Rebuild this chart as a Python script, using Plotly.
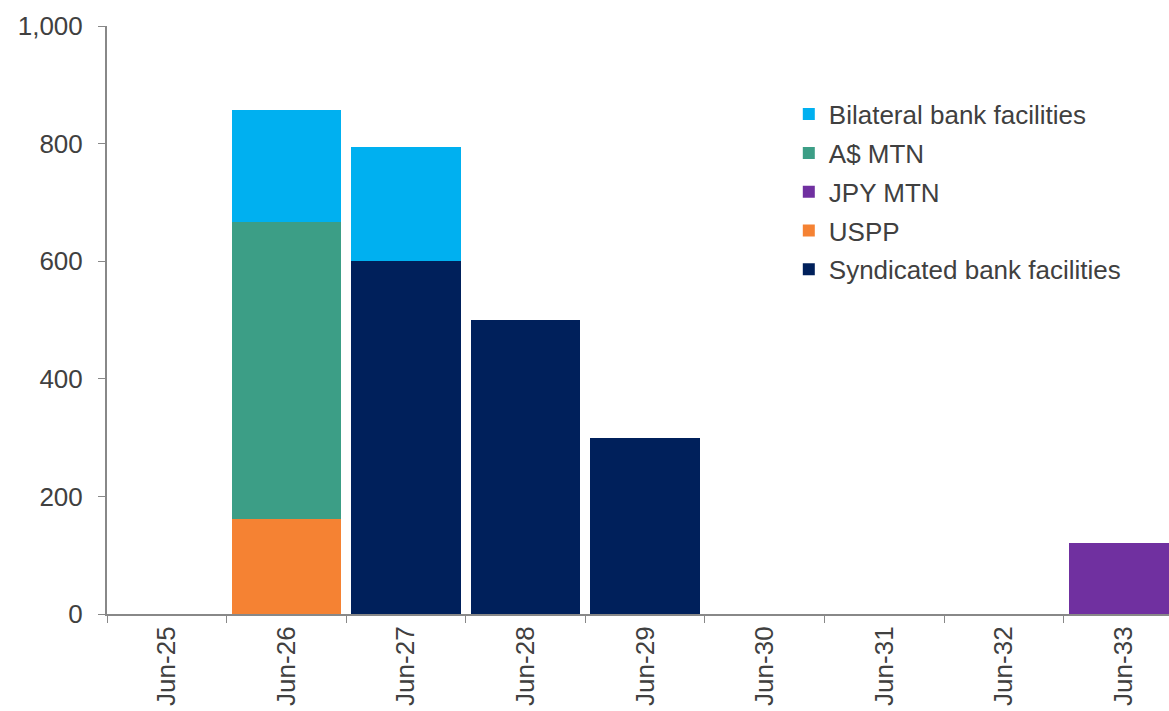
import plotly.graph_objects as go

categories = ["Jun-25", "Jun-26", "Jun-27", "Jun-28", "Jun-29", "Jun-30", "Jun-31", "Jun-32", "Jun-33"]
syndicated = [0, 0, 600, 500, 300, 0, 0, 0, 0]
uspp = [0, 162, 0, 0, 0, 0, 0, 0, 0]
jpy_mtn = [0, 0, 0, 0, 0, 0, 0, 0, 121]
aud_mtn = [0, 505, 0, 0, 0, 0, 0, 0, 0]
bilateral = [0, 190, 195, 0, 0, 0, 0, 0, 0]

# (name, values, colour, legend rank) — stacking order bottom to top
series = [
    ("Syndicated bank facilities", syndicated, "#00205B", 5),
    ("USPP", uspp, "#F58233", 4),
    ("JPY MTN", jpy_mtn, "#7030A0", 3),
    ("A$ MTN", aud_mtn, "#3C9E86", 2),
    ("Bilateral bank facilities", bilateral, "#00B0F0", 1),
]

fig = go.Figure()
for name, vals, color, rank in series:
    fig.add_trace(go.Bar(x=categories, y=vals, name=name, marker_color=color,
                         marker_line_width=0, legendgroup=name, legendrank=rank,
                         hoverinfo="x+y+name"))

font = dict(family="Liberation Sans, Arial, sans-serif", size=26, color="#404040")
fig.update_layout(
    barmode="stack",
    bargap=0.085,
    width=1169, height=711,
    margin=dict(l=107, r=0, t=26, b=97),
    plot_bgcolor="white", paper_bgcolor="white",
    font=font,
    showlegend=True,
    legend=dict(x=0.642, y=0.89, xanchor="left", yanchor="top",
                traceorder="grouped", tracegroupgap=2,
                font=dict(family="Liberation Sans, Arial, sans-serif", size=26, color="#404040"),
                bgcolor="rgba(0,0,0,0)"),
    xaxis=dict(type="category", range=[-0.5, 8.38], tickson="boundaries",
               ticks="outside", ticklen=7, tickcolor="#888888",
               showline=True, linecolor="#888888", linewidth=2,
               tickangle=-90, showgrid=False, zeroline=False, automargin=False),
    yaxis=dict(range=[0, 1000], dtick=200, tickformat=",d",
               ticks="outside", ticklen=7, tickcolor="#888888",
               ticklabelstandoff=10,
               showline=True, linecolor="#888888", linewidth=2,
               showgrid=False, zeroline=False, automargin=False),
)
fig.write_html("out.html")
